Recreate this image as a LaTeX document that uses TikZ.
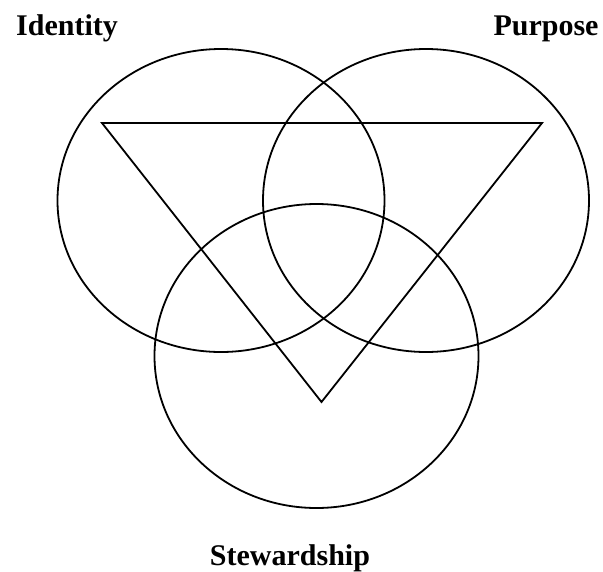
\documentclass[tikz,border=0pt]{standalone}
\usepackage{fontspec}
\setmainfont{Liberation Serif}
\usepackage{tikz}
\usetikzlibrary{positioning,calc}

\tikzset{
  ring/.style={draw=black,line width=1.8pt},
  tri/.style={draw=black,line width=1.8pt,line join=miter},
  label/.style={font=\fontsize{30}{36}\selectfont\bfseries,text=black,anchor=base,inner sep=0pt}
}

\begin{document}
\begin{tikzpicture}[x=1pt,y=-1pt]
    \useasboundingbox (0,0) rectangle (603,571);
    % Venn rings
    \draw[ring] (221,200.5) ellipse [x radius=163.5,y radius=151.5];
    \draw[ring] (426,200.5) ellipse [x radius=163,y radius=151.5];
    \draw[ring] (316.5,356) ellipse [x radius=162,y radius=152];

    % Triangle
    \coordinate (tl) at (102,123);
    \coordinate (tr) at (542,123);
    \coordinate (tb) at (321.5,402);
    \draw[tri] (tl) -- (tr) -- (tb) -- cycle;

    % Labels
    \node[label] (identity) at (67,35)      {Identity};
    \node[label] (purpose)  at (546,35)     {Purpose};
    \node[label] (steward)  at (290,565)    {Stewardship};
  \end{tikzpicture}
\end{document}
